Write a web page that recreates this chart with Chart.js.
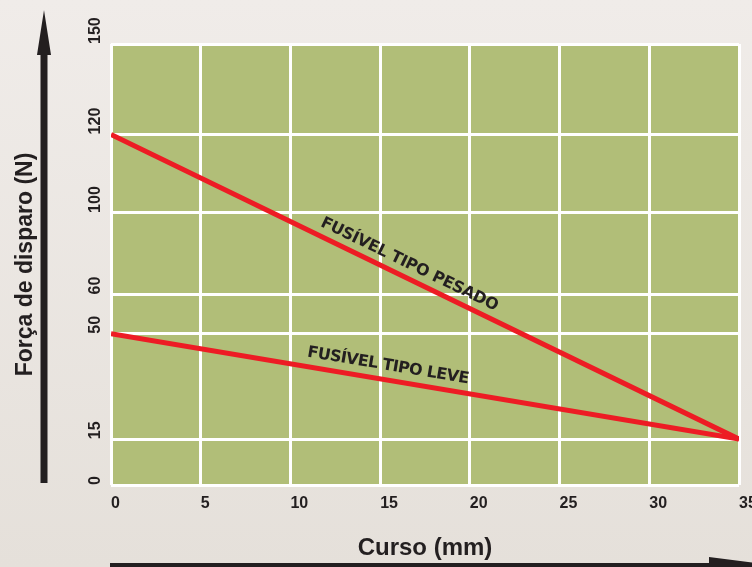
<!DOCTYPE html>
<html lang="pt-br">
<head>
<meta charset="UTF-8">
<title>Força de disparo x Curso</title>
<script src="https://cdn.jsdelivr.net/npm/chart.js@4"></script>
<style>
  html, body { margin: 0; padding: 0; }
  body {
    width: 752px;
    height: 567px;
    overflow: hidden;
    background: linear-gradient(#f0ece9, #e5e0da);
  }
</style>
</head>
<body>
<canvas id="grafico" width="752" height="567"></canvas>
<script>
  // dados
  const curso = [0, 35];              // mm
  const fusivelPesado = [120, 15];    // N
  const fusivelLeve = [50, 15];       // N
  const cursoTicks = [0, 5, 10, 15, 20, 25, 30, 35];
  const forcaTicks = [0, 15, 50, 60, 100, 120, 150];

  const VERMELHO = '#ed1c24';
  const ESCURO = '#231f20';
  const VERDE = '#b1be78';

  // eixo de força com espaçamento irregular entre as marcas (como no original)
  class ForcaScale extends Chart.LinearScale {
    buildTicks() {
      this.start = this.min;
      this.end = this.max;
      return forcaTicks.map(v => ({ value: v }));
    }
    _fracao(v) {
      const pos = this.options.posicoes;
      if (v <= forcaTicks[0]) return pos[0];
      for (let i = 1; i < forcaTicks.length; i++) {
        if (v <= forcaTicks[i]) {
          const t = (v - forcaTicks[i - 1]) / (forcaTicks[i] - forcaTicks[i - 1]);
          return pos[i - 1] + t * (pos[i] - pos[i - 1]);
        }
      }
      return pos[pos.length - 1];
    }
    getPixelForValue(v) {
      if (v === null || v === undefined || isNaN(v)) return NaN;
      return this.getPixelForDecimal(this._fracao(v));
    }
    getValueForPixel(p) {
      const d = this.getDecimalForPixel(p);
      const pos = this.options.posicoes;
      for (let i = 1; i < pos.length; i++) {
        if (d <= pos[i]) {
          const t = (d - pos[i - 1]) / (pos[i] - pos[i - 1]);
          return forcaTicks[i - 1] + t * (forcaTicks[i] - forcaTicks[i - 1]);
        }
      }
      return forcaTicks[forcaTicks.length - 1];
    }
    // rótulos girados começando na linha da grade
    _getYAxisLabelAlignment(tl) {
      return { textAlign: 'left', x: this.right - tl - this.options.ticks.padding };
    }
  }
  ForcaScale.id = 'forca';
  ForcaScale.defaults = Chart.LinearScale.defaults;
  Chart.register(ForcaScale);

  // fundo verde da área do gráfico
  const fundoVerde = {
    id: 'fundoVerde',
    beforeDraw(chart) {
      const { ctx, chartArea: a } = chart;
      ctx.save();
      ctx.fillStyle = VERDE;
      ctx.fillRect(a.left, a.top, a.right - a.left, a.bottom - a.top);
      ctx.restore();
    }
  };

  // nomes das curvas escritos ao longo das linhas
  const rotulos = [
    { dataset: 0, texto: 'FUSÍVEL TIPO PESADO', x: 16.3, dist: 9, espaco: -0.35 },
    { dataset: 1, texto: 'FUSÍVEL TIPO LEVE', x: 15.3, dist: 10, espaco: -0.55 }
  ];
  const rotulosLinhas = {
    id: 'rotulosLinhas',
    afterDatasetsDraw(chart) {
      const ctx = chart.ctx;
      const xs = chart.scales.x;
      rotulos.forEach(r => {
        const pts = chart.getDatasetMeta(r.dataset).data;
        const a = pts[0], b = pts[pts.length - 1];
        const t = (xs.getPixelForValue(r.x) - a.x) / (b.x - a.x);
        const px = a.x + t * (b.x - a.x);
        const py = a.y + t * (b.y - a.y);
        ctx.save();
        ctx.translate(px, py);
        ctx.rotate(Math.atan2(b.y - a.y, b.x - a.x));
        ctx.font = 'bold 16px "DejaVu Sans", sans-serif';
        ctx.letterSpacing = r.espaco + 'px';
        ctx.fillStyle = ESCURO;
        ctx.textAlign = 'center';
        ctx.textBaseline = 'alphabetic';
        ctx.fillText(r.texto, 0, -r.dist);
        ctx.restore();
      });
    }
  };

  // setas pretas dos eixos
  const setas = {
    id: 'setas',
    afterDraw(chart) {
      const { ctx, chartArea: a } = chart;
      ctx.save();
      ctx.fillStyle = ESCURO;
      // seta vertical
      const sx = a.left - 67;
      ctx.fillRect(sx - 3.5, 53, 7, a.bottom - 2 - 53);
      ctx.beginPath();
      ctx.moveTo(sx, 10);
      ctx.lineTo(sx + 7, 55);
      ctx.lineTo(sx - 7, 55);
      ctx.closePath();
      ctx.fill();
      // seta horizontal (cortada pela borda)
      const sy = 566;
      ctx.fillRect(a.left - 1, sy - 3, 600, 6);
      ctx.beginPath();
      ctx.moveTo(a.right - 30, sy - 9);
      ctx.lineTo(a.right + 40, sy);
      ctx.lineTo(a.right - 30, sy + 9);
      ctx.closePath();
      ctx.fill();
      ctx.restore();
    }
  };

  const ctx = document.getElementById('grafico').getContext('2d');
  new Chart(ctx, {
    type: 'line',
    data: {
      datasets: [
        {
          label: 'Fusível tipo pesado',
          data: curso.map((x, i) => ({ x: x, y: fusivelPesado[i] })),
          borderColor: VERMELHO,
          borderWidth: 5,
          pointRadius: 0
        },
        {
          label: 'Fusível tipo leve',
          data: curso.map((x, i) => ({ x: x, y: fusivelLeve[i] })),
          borderColor: VERMELHO,
          borderWidth: 5,
          pointRadius: 0
        }
      ]
    },
    options: {
      responsive: false,
      animation: false,
      layout: { padding: { top: 44, right: 13, left: 0, bottom: 0 } },
      plugins: {
        legend: { display: false },
        tooltip: { enabled: false }
      },
      scales: {
        x: {
          type: 'linear',
          min: 0,
          max: 35,
          afterBuildTicks: s => { s.ticks = cursoTicks.map(v => ({ value: v })); },
          afterFit: s => { s.height = 82; s.paddingLeft = 0; s.paddingRight = 0; },
          grid: { color: '#ffffff', lineWidth: 3, drawTicks: false },
          border: { display: false },
          ticks: {
            align: 'start',
            padding: 9,
            color: ESCURO,
            font: { family: 'Liberation Sans, Arial, sans-serif', size: 16, weight: 'bold' },
            callback: v => String(v)
          },
          title: {
            display: true,
            text: 'Curso (mm)',
            color: ESCURO,
            font: { family: 'Liberation Sans, Arial, sans-serif', size: 24, weight: 'bold' },
            padding: { top: 0, bottom: 4 }
          }
        },
        y: {
          type: 'forca',
          min: 0,
          max: 150,
          posicoes: [0, 0.104, 0.343, 0.432, 0.617, 0.795, 1],
          afterFit: s => { s.width = 111; s.paddingTop = 0; s.paddingBottom = 0; },
          grid: { color: '#ffffff', lineWidth: 3, drawTicks: false },
          border: { display: false },
          ticks: {
            minRotation: 90,
            maxRotation: 90,
            padding: 15,
            color: ESCURO,
            font: { family: 'Liberation Sans, Arial, sans-serif', size: 16, weight: 'bold' },
            callback: v => String(v)
          },
          title: {
            display: true,
            text: 'Força de disparo (N)',
            color: ESCURO,
            font: { family: 'Liberation Sans, Arial, sans-serif', size: 23, weight: 'bold' },
            padding: { top: 12, bottom: 0 }
          }
        }
      }
    },
    plugins: [fundoVerde, rotulosLinhas, setas]
  });
</script>
</body>
</html>
